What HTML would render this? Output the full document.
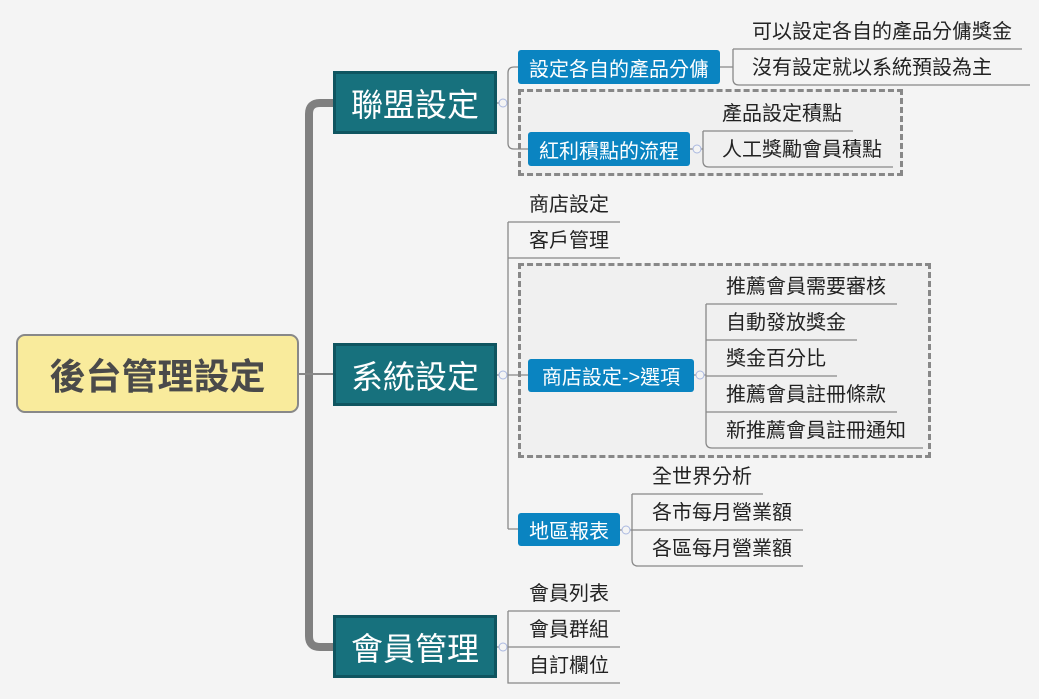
<!DOCTYPE html>
<html><head><meta charset="utf-8"><style>
body{margin:0;width:1039px;height:699px;background:#f4f4f4;position:relative;overflow:hidden;font-family:"Liberation Sans","Noto Sans CJK TC",sans-serif}
.a{position:absolute;white-space:nowrap}
.main{background:#17717d;border:3px solid #0f5560;color:#fff;font-size:32px;display:flex;align-items:center;justify-content:center;box-sizing:border-box}
.sub{background:#0a84c1;color:#fff;font-size:20px;border-radius:3px;display:flex;align-items:center;justify-content:center;box-sizing:border-box}
.t{font-size:20px;color:#222;line-height:22px}
.dash{border:3px dashed #888;box-sizing:border-box;background:#f0f0f0}
</style></head><body>
<div class="a dash" style="left:518px;top:89px;width:385px;height:87px"></div>
<div class="a dash" style="left:518px;top:263px;width:413px;height:195px"></div>
<svg class="a" style="left:0;top:0" width="1039" height="699">
<g fill="none" stroke="#888">
<path d="M333 103 H320 Q309 103 309 114 V636 Q309 647 320 647 H333" stroke-width="8" stroke="#808080"/>
<path d="M299 374 H333" stroke-width="2"/>
<path d="M497 103 H508 M520 67 H514 Q508 67 508 73 V143 Q508 149 514 149 H528" stroke-width="1.3"/>
<path d="M720 67 H733 M733 49 H1022 M733 49 V79 Q733 85 739 85 H1030" stroke-width="1.3"/>
<path d="M690 149 H703 M703 131 H853 M703 131 V161 Q703 167 709 167 H893" stroke-width="1.3"/>
<path d="M497 375 H508 M508 222 H620 M508 258 H620 M508 222 V529 M508 375 H528 M508 529 H518" stroke-width="1.3"/>
<path d="M694 375 H706 M706 304 H897 M706 340 H857 M706 376 H837 M706 412 H897 M706 304 V442 Q706 448 712 448 H923" stroke-width="1.3"/>
<path d="M620 530 H632 M632 494 H763 M632 530 H803 M632 494 V560 Q632 566 638 566 H803" stroke-width="1.3"/>
<path d="M497 647 H508 M508 611 H620 M508 647 H620 M508 611 V683 H620" stroke-width="1.3"/>
</g>
<g fill="#f4f4f4" stroke="#aab8e0" stroke-width="1">
<circle cx="503" cy="103" r="4"/><circle cx="503" cy="375" r="4"/><circle cx="503" cy="647" r="4"/>
<circle cx="697" cy="149" r="4"/><circle cx="700" cy="375" r="4"/><circle cx="626" cy="530" r="4"/>
</g>
</svg>
<div class="a" style="left:16px;top:334px;width:283px;height:79px;box-sizing:border-box;background:#f9eb9c;border:2px solid #888;border-radius:9px;display:flex;align-items:center;justify-content:center;font-size:36px;font-weight:bold;color:#4a4a4a">後台管理設定</div>
<div class="a main" style="left:333px;top:71px;width:164px;height:63px">聯盟設定</div>
<div class="a main" style="left:333px;top:343px;width:164px;height:63px">系統設定</div>
<div class="a main" style="left:333px;top:615px;width:164px;height:63px">會員管理</div>
<div class="a sub" style="left:518px;top:50px;width:202px;height:34px">設定各自的產品分傭</div>
<div class="a sub" style="left:528px;top:132px;width:162px;height:34px">紅利積點的流程</div>
<div class="a sub" style="left:528px;top:359px;width:166px;height:33px">商店設定-&gt;選項</div>
<div class="a sub" style="left:518px;top:513px;width:102px;height:33px">地區報表</div>
<div class="a t" style="left:752px;top:21px">可以設定各自的產品分傭獎金</div>
<div class="a t" style="left:752px;top:57px">沒有設定就以系統預設為主</div>
<div class="a t" style="left:722px;top:103px">產品設定積點</div>
<div class="a t" style="left:722px;top:139px">人工獎勵會員積點</div>
<div class="a t" style="left:529px;top:194px">商店設定</div>
<div class="a t" style="left:529px;top:230px">客戶管理</div>
<div class="a t" style="left:726px;top:276px">推薦會員需要審核</div>
<div class="a t" style="left:726px;top:312px">自動發放獎金</div>
<div class="a t" style="left:726px;top:348px">獎金百分比</div>
<div class="a t" style="left:726px;top:384px">推薦會員註冊條款</div>
<div class="a t" style="left:726px;top:420px">新推薦會員註冊通知</div>
<div class="a t" style="left:652px;top:466px">全世界分析</div>
<div class="a t" style="left:652px;top:502px">各市每月營業額</div>
<div class="a t" style="left:652px;top:538px">各區每月營業額</div>
<div class="a t" style="left:529px;top:583px">會員列表</div>
<div class="a t" style="left:529px;top:619px">會員群組</div>
<div class="a t" style="left:529px;top:655px">自訂欄位</div>
</body></html>
